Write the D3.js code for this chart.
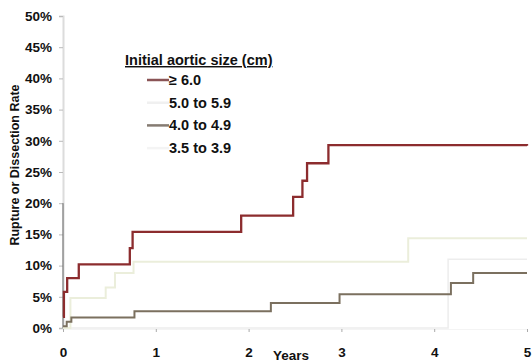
<!DOCTYPE html>
<html>
<head>
<meta charset="utf-8">
<script src="https://cdn.jsdelivr.net/npm/d3@7"></script>
<style>
  body { margin: 0; background: #fff; }
  text { font-family: "Liberation Sans", Arial, sans-serif; font-weight: bold; fill: #111; }
</style>
</head>
<body>
<div id="chart"></div>
<script>
// step curves: [years, percent]
const size6 = [[0, 1.8], [0.01, 5.8], [0.045, 8], [0.17, 10.2], [0.72, 12.8], [0.75, 15.4],
    [1.92, 18], [2.48, 21], [2.58, 23.6], [2.63, 26.4], [2.86, 29.3], [5, 29.2]];
const size5 = [[0, 0], [0.08, 4.8], [0.46, 6.5], [0.56, 8.8], [0.76, 10.6], [3.72, 14.4], [5, 14.4]];
const size4 = [[0, 0.3], [0.04, 1], [0.09, 1.7], [0.77, 2.7], [2.24, 4], [2.98, 5.4],
    [4.18, 7.2], [4.42, 8.8], [5, 8.8]];
const size35 = [[0, 0], [4.15, 11], [5, 11]];

const legendLabels = ["\u2265 6.0", "5.0 to 5.9", "4.0 to 4.9", "3.5 to 3.9"];
const yTicks = [0, 5, 10, 15, 20, 25, 30, 35, 40, 45, 50];
const xTicks = [0, 1, 2, 3, 4, 5];

const W = 532, H = 362;
const x = d3.scaleLinear().domain([0, 5]).range([63, 527]);
const y = d3.scaleLinear().domain([0, 50]).range([328, 16]);

const svg = d3.select("#chart").append("svg")
    .attr("width", W)
    .attr("height", H);

// y axis
const yAxis = svg.append("g")
    .attr("transform", "translate(" + x(0) + ",0)")
    .call(d3.axisLeft(y).tickValues(yTicks).tickSize(4).tickPadding(7).tickFormat(d => d + "%"));
yAxis.select(".domain").attr("stroke", "#dcdcdc").attr("stroke-width", 2);
yAxis.selectAll(".tick line").attr("stroke", "#bbb");
yAxis.selectAll("text").style("font-size", "13.5px").attr("fill", "#111");
// darker lower part of the axis line
svg.append("line")
    .attr("x1", x(0)).attr("x2", x(0))
    .attr("y1", y(0)).attr("y2", y(20))
    .attr("stroke", "#666").attr("stroke-width", 1);

// x axis
const xAxis = svg.append("g")
    .attr("transform", "translate(0," + (y(0) + 1) + ")")
    .call(d3.axisBottom(x).tickValues(xTicks).tickSize(3).tickPadding(15).tickFormat(d3.format("d")));
xAxis.select(".domain").attr("stroke", "#f4f4f4");
xAxis.selectAll(".tick line").attr("stroke", "#aaa");
xAxis.selectAll("text").style("font-size", "13.5px").attr("fill", "#111");

svg.append("text")
    .attr("x", 291).attr("y", 360)
    .attr("text-anchor", "middle")
    .style("font-size", "13.5px")
    .text("Years");

svg.append("text")
    .attr("transform", "translate(19,165) rotate(-90)")
    .attr("text-anchor", "middle")
    .style("font-size", "12.5px")
    .text("Rupture or Dissection Rate");

const line = d3.line()
    .x(d => x(d[0]))
    .y(d => y(d[1]))
    .curve(d3.curveStepAfter);

const series = [
    {data: size35, color: "#ededed", w: 1.5},
    {data: size5, color: "#ebeedb", w: 2},
    {data: size4, color: "#7b705f", w: 2},
    {data: size6, color: "#8c2c2e", w: 2.3}
];
svg.selectAll(".km")
    .data(series)
    .enter().append("path")
    .attr("class", "km")
    .attr("d", d => line(d.data))
    .attr("fill", "none")
    .attr("stroke", d => d.color)
    .attr("stroke-width", d => d.w);

// legend
const lg = svg.append("g");
lg.append("text")
    .attr("x", 125).attr("y", 65)
    .style("font-size", "14.5px")
    .style("text-decoration", "underline")
    .text("Initial aortic size (cm)");
const markColors = ["#8a5456", "#f0f0f0", "#857b72", "#f4f4f4"];
legendLabels.forEach(function (lab, i) {
    const ly = 85 + i * 22.7;
    lg.append("line")
        .attr("x1", 147).attr("x2", 169)
        .attr("y1", ly - 5).attr("y2", ly - 5)
        .attr("stroke", markColors[i]).attr("stroke-width", 2.5);
    lg.append("text")
        .attr("x", 169).attr("y", ly)
        .style("font-size", "14.5px")
        .text(lab);
});
</script>
</body>
</html>
